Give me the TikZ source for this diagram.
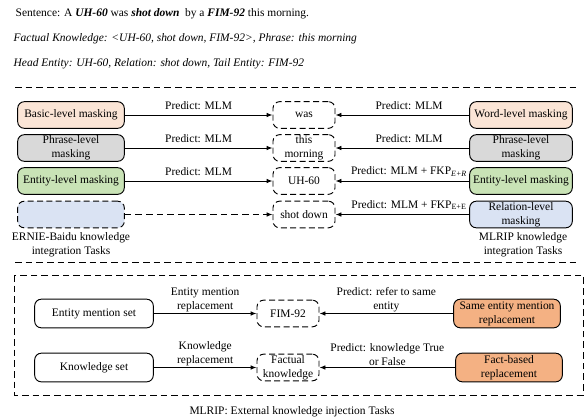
\documentclass[tikz,border=0pt]{standalone}
\usepackage{fontspec}
\setmainfont{Liberation Serif}
\usetikzlibrary{arrows.meta}
\definecolor{peach}{HTML}{FBE5D6}
\definecolor{greybox}{HTML}{D9D9D9}
\definecolor{greenbox}{HTML}{C9E3B6}
\definecolor{bluebox}{HTML}{DAE3F3}
\definecolor{orangebox}{HTML}{F4B183}
\begin{document}
\begin{tikzpicture}[x=0.75pt,y=0.75pt,yscale=-1,xscale=1,
    every node/.style={font=\fontsize{8.6}{10.5}\selectfont},
    box/.style={draw, line width=0.7pt, rounded corners=5pt, align=center, inner sep=0pt},
    lbox/.style={box, minimum width=80pt, minimum height=20pt},
    rbox/.style={box, minimum width=77pt, minimum height=20pt},
    tbox/.style={box, dash pattern=on 4.5pt off 2.5pt, minimum width=46.5pt, minimum height=20pt},
    sbox/.style={box, minimum width=89pt, minimum height=21.5pt},
    obox/.style={box, fill=orangebox, minimum width=80pt, minimum height=21.5pt},
    arr/.style={-{Latex[length=4.5pt,width=3.5pt]}, line width=0.7pt},
    sep/.style={line width=0.7pt, dash pattern=on 5pt off 3pt}]
        \useasboundingbox (0,0) rectangle (585,419);
        % example sentence
        \node[anchor=west] (sent) at (11,14) {Sentence: A \textbf{\textit{UH-60}} was \textbf{\textit{shot down}}~ by a \textbf{\textit{FIM-92}} this morning.};
        \node[anchor=west] (fact) at (9,39) {\textit{Factual Knowledge: <UH-60, shot down, FIM-92>, Phrase: this morning}};
        \node[anchor=west] (head) at (9,64) {\textit{Head Entity: UH-60, Relation: shot down, Tail Entity: FIM-92}};
        \draw[sep] (15,87)--(580,87);
        % knowledge integration
        \node[lbox, fill=peach] (basic) at (71,115) {Basic-level masking};
        \node[lbox, fill=greybox] (phrase) at (71,148) {Phrase-level\\masking};
        \node[lbox, fill=greenbox] (entity) at (71,181) {Entity-level masking};
        \node[lbox, fill=bluebox, dash pattern=on 4.5pt off 2.5pt] (blank) at (71,214.5) {};
        \node[align=center] (ernie) at (71,245) {ERNIE-Baidu knowledge\\integration Tasks};
        \node[tbox] (was) at (304,115) {was};
        \node[tbox] (morning) at (304,148) {this\\morning};
        \node[tbox] (uh) at (304,181) {UH-60};
        \node[tbox] (shot) at (304,214.5) {shot down};
        \node[rbox, fill=peach] (word) at (521,115) {Word-level masking};
        \node[rbox, fill=greybox] (rphrase) at (521,148) {Phrase-level\\masking};
        \node[rbox, fill=greenbox] (rentity) at (521,181) {Entity-level masking};
        \node[rbox, fill=bluebox] (relation) at (521,214.5) {Relation-level\\masking};
        \node[align=center] (mlrip) at (523,245) {MLRIP knowledge\\integration Tasks};
        \draw[arr] (basic)--node[above]{Predict: MLM}(was);
        \draw[arr] (phrase)--node[above]{Predict: MLM}(morning);
        \draw[arr] (entity)--node[above]{Predict: MLM}(uh);
        \draw[arr, dash pattern=on 5pt off 3pt] (blank)--(shot);
        \draw[arr] (word)--node[above, pos=0.45]{Predict: MLM}(was);
        \draw[arr] (rphrase)--node[above, pos=0.45]{Predict: MLM}(morning);
        \draw[arr] (rentity)--node[above, pos=0.45]{Predict: MLM + FKP\textsubscript{\textit{E+R}}}(uh);
        \draw[arr] (relation)--node[above, pos=0.45]{Predict: MLM + FKP\textsubscript{E+E}}(shot);
        \draw[sep] (15,262)--(580,262);
        % knowledge injection
        \draw[sep] (14,275) rectangle (583,395);
        \node[sbox] (mention) at (94,313.5) {Entity mention set};
        \node[sbox] (kset) at (94,367.5) {Knowledge set};
        \node[tbox] (fim) at (288,313.5) {FIM-92};
        \node[tbox] (factual) at (288,367.5) {Factual\\knowledge};
        \node[obox] (same) at (507,313.5) {Same entity mention\\replacement};
        \node[obox] (fbased) at (509,367.5) {Fact-based\\replacement};
        \draw[arr] (mention)--node[above, align=center, inner sep=1pt]{Entity mention\\replacement}(fim);
        \draw[arr] (kset)--node[above, align=center, inner sep=1pt]{Knowledge\\replacement}(factual);
        \draw[arr] (same)--node[above, align=center, inner sep=1pt]{Predict: refer to same\\entity}(fim);
        \draw[arr] (fbased)--node[above, align=center, inner sep=1pt]{Predict: knowledge True\\or False}(factual);
        \node (inject) at (292,412) {MLRIP: External knowledge injection Tasks};
    \end{tikzpicture}
\end{document}
